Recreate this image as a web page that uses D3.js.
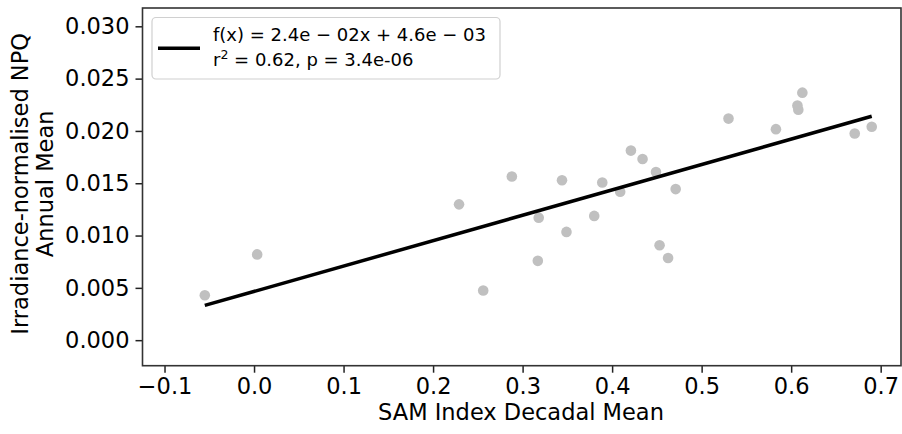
<!DOCTYPE html>
<html>
<head>
<meta charset="utf-8">
<script src="https://cdn.jsdelivr.net/npm/d3@7"></script>
<style>
  html, body { margin: 0; padding: 0; background: #fff; }
  svg { display: block; font-family: "DejaVu Sans", sans-serif; }
</style>
</head>
<body>
<svg id="chart" width="902" height="434"></svg>
<script>
// ---- data ----
const samIndex = [-0.055, 0.0035, 0.229, 0.256, 0.288, 0.318, 0.317, 0.344, 0.349, 0.380,
  0.389, 0.409, 0.421, 0.434, 0.449, 0.453, 0.4625, 0.471, 0.530, 0.583,
  0.607, 0.608, 0.6125, 0.671, 0.690];
const npqMean = [0.00429, 0.0082, 0.01298, 0.00475, 0.01565, 0.01171, 0.00758, 0.01529, 0.01035, 0.01188,
  0.01507, 0.01419, 0.01812, 0.01731, 0.01607, 0.00908, 0.00785, 0.01444, 0.02118, 0.02017,
  0.02242, 0.02203, 0.02366, 0.01976, 0.02040];
const xTicks = [-0.1, 0.0, 0.1, 0.2, 0.3, 0.4, 0.5, 0.6, 0.7];
const yTicks = [0.000, 0.005, 0.010, 0.015, 0.020, 0.025, 0.030];
const legendLines = ["f(x) = 2.4e \u2212 02x + 4.6e \u2212 03", "r", "2", " = 0.62, p = 3.4e-06"];
const xLabel = "SAM Index Decadal Mean";
const yLabelLines = ["Irradiance-normalised NPQ", "Annual Mean"];

// ---- layout ----
const svg = d3.select("#chart");
const L = 142.5, R = 901, T = 8, B = 365.7;
const x = d3.scaleLinear().domain([-0.1246, 0.7227]).range([L, R]);
const y = d3.scaleLinear().domain([-0.00244, 0.03175]).range([B, T]);

// regression (least squares)
const mx = d3.mean(samIndex), my = d3.mean(npqMean);
let sxy = 0, sxx = 0;
samIndex.forEach((v, i) => { sxy += (v - mx) * (npqMean[i] - my); sxx += (v - mx) * (v - mx); });
const slope = sxy / sxx, intercept = my - slope * mx;
const xr = d3.extent(samIndex);

// points
svg.append("g").selectAll("circle").data(samIndex).join("circle")
  .attr("cx", d => x(d)).attr("cy", (d, i) => y(npqMean[i]))
  .attr("r", 5.3).attr("fill", "#c0c0c0");

// fit line
svg.append("line")
  .attr("x1", x(xr[0])).attr("y1", y(slope * xr[0] + intercept))
  .attr("x2", x(xr[1])).attr("y2", y(slope * xr[1] + intercept))
  .attr("stroke", "#000").attr("stroke-width", 3.5);

// axes
const fmtX = d => d3.format(".1f")(d).replace("-", "\u2212");
const xAxis = svg.append("g").attr("transform", `translate(0,${B})`)
  .call(d3.axisBottom(x).tickValues(xTicks).tickFormat(fmtX).tickSize(7).tickPadding(5));
const yAxis = svg.append("g").attr("transform", `translate(${L},0)`)
  .call(d3.axisLeft(y).tickValues(yTicks).tickFormat(d3.format(".3f")).tickSize(7).tickPadding(6));
[xAxis, yAxis].forEach(g => {
  g.select(".domain").remove();
  g.selectAll(".tick line").attr("stroke", "#222").attr("stroke-width", 1.5);
  g.selectAll(".tick text").attr("font-size", 22.5).attr("fill", "#000")
    .attr("font-family", "DejaVu Sans");
});

// frame
svg.append("rect").attr("x", L).attr("y", T).attr("width", R - L).attr("height", B - T)
  .attr("fill", "none").attr("stroke", "#333").attr("stroke-width", 1.6);

// axis labels
svg.append("text").attr("x", 521).attr("y", 420).attr("text-anchor", "middle")
  .attr("font-size", 22.5).text(xLabel);
const yl = svg.append("text").attr("transform", `translate(28,${(T + B) / 2 - 3}) rotate(-90)`)
  .attr("text-anchor", "middle").attr("font-size", 22.5);
yl.append("tspan").attr("x", 0).attr("y", 0).text(yLabelLines[0]);
yl.append("tspan").attr("x", 0).attr("y", 25).text(yLabelLines[1]);

// legend
const lg = svg.append("g");
lg.append("rect").attr("x", 152).attr("y", 17.5).attr("width", 348).attr("height", 61.5)
  .attr("rx", 4).attr("fill", "#fff").attr("fill-opacity", 0.8)
  .attr("stroke", "#d0d0d0").attr("stroke-width", 1.2);
lg.append("line").attr("x1", 158).attr("x2", 200).attr("y1", 48.3).attr("y2", 48.3)
  .attr("stroke", "#000").attr("stroke-width", 3.5);
lg.append("text").attr("x", 213).attr("y", 41).attr("font-size", 18).text(legendLines[0]);
const t2 = lg.append("text").attr("x", 213).attr("y", 66).attr("font-size", 18);
t2.append("tspan").text(legendLines[1]);
t2.append("tspan").attr("dy", -7.5).attr("font-size", 12.5).text(legendLines[2]);
t2.append("tspan").attr("dy", 7.5).text(legendLines[3]);
</script>
</body>
</html>
